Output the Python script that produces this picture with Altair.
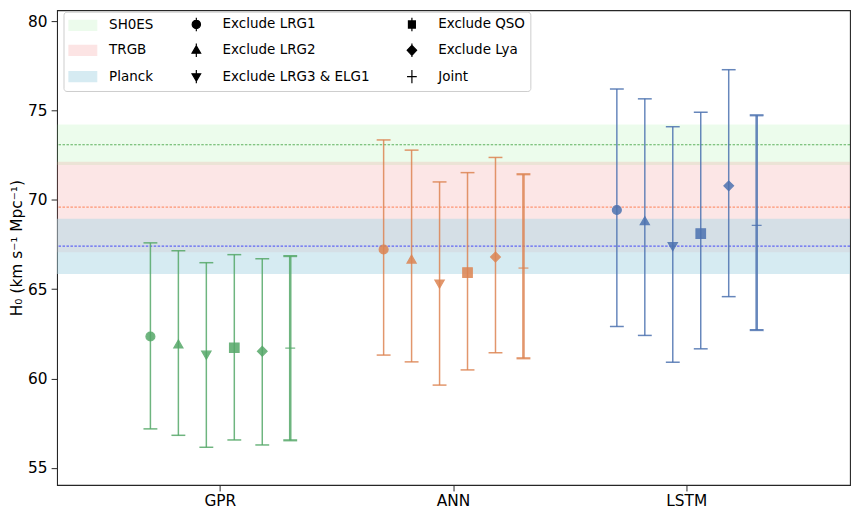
import altair as alt
import pandas as pd

# ---------------- data ----------------
models = ["GPR", "ANN", "LSTM"]
variants = ["Exclude LRG1", "Exclude LRG2", "Exclude LRG3 & ELG1",
            "Exclude QSO", "Exclude Lya", "Joint"]

gpr_mid = [62.35, 61.93, 61.30, 61.72, 61.52, 61.70]
gpr_lo = [57.18, 56.82, 56.15, 56.56, 56.28, 56.54]
gpr_hi = [67.59, 67.15, 66.48, 66.93, 66.70, 66.85]

ann_mid = [67.22, 66.68, 65.28, 65.93, 66.80, 66.18]
ann_lo = [61.31, 60.93, 59.63, 60.48, 61.44, 61.13]
ann_hi = [73.35, 72.78, 71.00, 71.52, 72.37, 71.43]

lstm_mid = [69.43, 68.83, 67.38, 68.11, 70.78, 68.57]
lstm_lo = [62.91, 62.41, 60.91, 61.66, 64.58, 62.71]
lstm_hi = [76.20, 75.65, 74.09, 74.90, 77.28, 74.73]

refs = ["SH0ES", "TRGB", "Planck"]
ref_mid = [73.08, 69.59, 67.41]
ref_lo = [71.95, 67.06, 65.85]
ref_hi = [74.22, 72.13, 68.94]

y_ticks = [55, 60, 65, 70, 75, 80]

# ---------------- styles ----------------
model_colors = ["#55a868", "#dd8452", "#4c72b0"]
band_colors = ["rgba(144,238,144,0.17)", "rgba(240,128,128,0.2)", "rgba(173,216,230,0.5)"]
line_colors = ["rgba(0,128,0,0.6)", "rgba(255,69,0,0.5)", "rgba(0,0,255,0.55)"]
point_shapes = ["circle", "triangle-up", "triangle-down", "square", "diamond", "M-1,0H1"]
point_sizes = [81, 100, 100, 81, 130, 121]

FONT = "DejaVu Sans"

rows = []
for m, mids, los, his in [("GPR", gpr_mid, gpr_lo, gpr_hi),
                          ("ANN", ann_mid, ann_lo, ann_hi),
                          ("LSTM", lstm_mid, lstm_lo, lstm_hi)]:
    for v, a, b, c in zip(variants, mids, los, his):
        rows.append({"model": m, "variant": v, "mid": a, "lo": b, "hi": c})
err_df = pd.DataFrame(rows)
ref_df = pd.DataFrame({"ref": refs, "mid": ref_mid, "lo": ref_lo, "hi": ref_hi})

# dodge slots: one empty slot on each side of the six variants
slot_domain = ["_pad_left"] + variants + ["_pad_right"]

y_scale = alt.Scale(domain=[54.04, 80.61], nice=False, zero=False)
x_scale = alt.Scale(domain=models, paddingInner=0, paddingOuter=0.2)
xo_scale = alt.Scale(domain=slot_domain, paddingInner=0, paddingOuter=0.17)

y_axis = alt.Axis(values=y_ticks, title="H₀ (km s⁻¹ Mpc⁻¹)", grid=False, domain=False,
                  tickSize=6, tickColor="#262626", labelPadding=4,
                  labelFont=FONT, labelFontSize=15.5, labelColor="black",
                  titleFont=FONT, titleFontSize=15.5, titleFontWeight="normal",
                  titleColor="black", titlePadding=3)
x_axis = alt.Axis(title=None, grid=False, domain=False, labelAngle=0,
                  tickSize=6, tickColor="#262626", labelPadding=3,
                  labelFont=FONT, labelFontSize=15.5, labelColor="black")

X = alt.X("model:N", scale=x_scale, axis=x_axis, sort=models)
XO = alt.XOffset("variant:N", scale=xo_scale, sort=slot_domain)
model_color = alt.Color("model:N", scale=alt.Scale(domain=models, range=model_colors), legend=None)

# bands
bands = alt.Chart(ref_df).mark_rect().encode(
    x=alt.value(0), x2=alt.value("width"),
    y=alt.Y("lo:Q", scale=y_scale, axis=y_axis), y2="hi:Q",
    color=alt.Color("ref:N", scale=alt.Scale(domain=refs, range=band_colors), legend=None),
)

lines = alt.Chart(ref_df).mark_rule(strokeDash=[2.5, 1.5], strokeWidth=1.2).encode(
    y=alt.Y("mid:Q", scale=y_scale),
    color=alt.Color("ref:N", scale=alt.Scale(domain=refs, range=line_colors), legend=None),
)

is_joint = alt.datum.variant == "Joint"

bars = alt.Chart(err_df).mark_rule(opacity=0.85).encode(
    x=X, xOffset=XO,
    y=alt.Y("lo:Q", scale=y_scale), y2="hi:Q",
    color=model_color,
    strokeWidth=alt.condition(is_joint, alt.value(2.6), alt.value(1.5)),
)

caps = alt.Chart(err_df).transform_fold(["lo", "hi"], as_=["end", "val"]).mark_point(
    shape="M-1,0H1", size=196, filled=False, opacity=0.85
).encode(
    x=X, xOffset=XO,
    y=alt.Y("val:Q", scale=y_scale),
    color=model_color,
    strokeWidth=alt.condition(is_joint, alt.value(2.2), alt.value(1.5)),
)

points = alt.Chart(err_df).mark_point(filled=True, opacity=0.85, strokeWidth=1.2).encode(
    x=X, xOffset=XO,
    y=alt.Y("mid:Q", scale=y_scale),
    color=model_color,
    stroke=alt.Stroke("model:N", scale=alt.Scale(domain=models, range=model_colors), legend=None),
    shape=alt.Shape("variant:N", scale=alt.Scale(domain=variants, range=point_shapes), legend=None),
    size=alt.Size("variant:N", scale=alt.Scale(domain=variants, range=point_sizes), legend=None),
)

# legend (Vega fills the 3-column grid column by column)
legend_order = ["SH0ES", "TRGB", "Planck",
                "Exclude LRG1", "Exclude LRG2", "Exclude LRG3 & ELG1",
                "Exclude QSO", "Exclude Lya", "Joint"]
patch = "M-1,-0.72H3V0.72H-1Z"
vline = " M1,-0.97V0.97"
legend_paths = [
    patch, patch, patch,
    "M1.6,0A0.6,0.6 0 1 1 0.4,0A0.6,0.6 0 1 1 1.6,0Z" + vline,
    "M1,-0.66L1.62,0.4L0.38,0.4Z" + vline,
    "M1,0.66L1.62,-0.4L0.38,-0.4Z" + vline,
    "M0.5,-0.52H1.5V0.52H0.5Z" + vline,
    "M1,-0.72L1.68,0L1,0.72L0.32,0Z" + vline,
    "M0.3,0H1.7" + vline,
]
legend_fill = ["#ecfbec", "#fce4e4", "#d6ebf2",
               "black", "black", "black",
               "black", "black", "black"]

legend_def = alt.Legend(
    title=None, orient="none", legendX=6.5, legendY=1.5, columns=3,
    symbolSize=196, labelOffset=25.5, columnPadding=27.5, rowPadding=6.5,
    padding=4.5, labelFont=FONT, labelFontSize=13.6, labelColor="black",
    labelLimit=400, strokeColor="#cccccc", fillColor="white",
    cornerRadius=3, symbolStrokeWidth=1.2, symbolOpacity=1,
)

legend_df = pd.DataFrame({"label": legend_order})
leg = alt.Chart(legend_df).mark_point(filled=True, opacity=0).encode(
    x=alt.value(0), y=alt.value(0),
    color=alt.Color("label:N", scale=alt.Scale(domain=legend_order, range=legend_fill),
                    legend=legend_def),
    stroke=alt.Stroke("label:N", scale=alt.Scale(domain=legend_order, range=legend_fill),
                      legend=legend_def),
    shape=alt.Shape("label:N", scale=alt.Scale(domain=legend_order, range=legend_paths),
                    legend=legend_def),
)

chart = alt.layer(bands, lines, bars, caps, points, leg).resolve_scale(
    color="independent", shape="independent",
    stroke="independent", size="independent",
).properties(
    width=800, height=479,
    autosize=alt.AutoSizeParams(type="none"),
    padding={"left": 49.5, "top": 0, "right": 2, "bottom": 22},
    background="white",
).configure_view(stroke="#262626", strokeWidth=1.1)

chart.save("out.html", embed_options={"renderer": "svg", "actions": False})
